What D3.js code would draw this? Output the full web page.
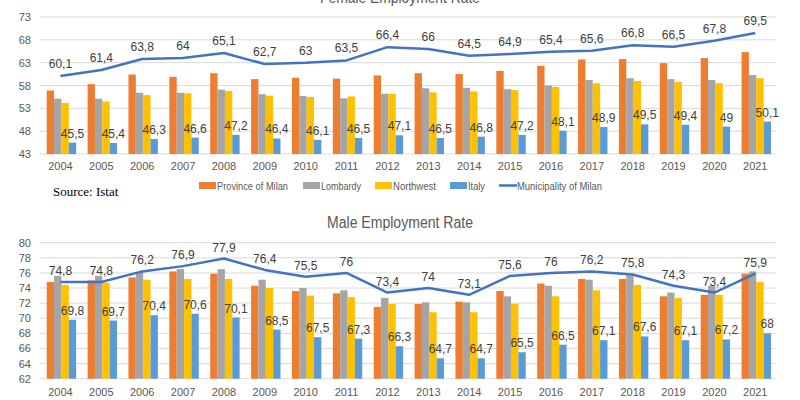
<!DOCTYPE html>
<html><head><meta charset="utf-8">
<script src="https://cdn.jsdelivr.net/npm/d3@7"></script>
<style>
body{margin:0;background:#fff;}
svg{display:block;font-family:"Liberation Sans","Open Sans",sans-serif;}
</style></head><body>
<svg id="c" width="800" height="400"></svg>
<script>
const years = ["2004","2005","2006","2007","2008","2009","2010","2011","2012","2013","2014","2015","2016","2017","2018","2019","2020","2021"];
const seriesNames = ["Province of Milan","Lombardy","Northwest","Italy","Municipality of Milan"];
const colors = ["#ED7D31","#A5A5A5","#FFC000","#5B9BD5","#4472C4"];

// Female
const fProvince = [56.9,58.3,60.4,59.9,60.7,59.4,59.7,59.5,60.2,60.7,60.5,61.2,62.3,63.7,63.8,62.9,64.0,65.3];
const fLombardy = [55.1,55.1,56.4,56.4,57.1,56.1,55.7,55.2,56.2,57.4,57.5,57.2,58.0,59.2,59.6,59.4,59.2,60.3];
const fNorthwest = [54.2,54.5,55.9,56.3,56.8,55.8,55.5,55.6,56.2,56.5,56.7,57.0,57.7,58.5,59.0,58.8,58.5,59.6];
const fItaly = [45.5,45.4,46.3,46.6,47.2,46.4,46.1,46.5,47.1,46.5,46.8,47.2,48.1,48.9,49.5,49.4,49.0,50.1];
const fMunicipality = [60.1,61.4,63.8,64,65.1,62.7,63,63.5,66.4,66,64.5,64.9,65.4,65.6,66.8,66.5,67.8,69.5];
const fTicks = [43,48,53,58,63,68,73];

// Male
const mProvince = [74.8,75.0,75.4,76.2,75.9,74.3,73.6,73.3,71.5,71.9,72.2,73.6,74.6,75.2,75.2,72.9,73.1,75.9];
const mLombardy = [75.6,75.6,76.1,76.5,76.5,75.1,74.0,73.7,72.7,72.1,72.1,72.9,74.3,75.1,75.7,73.4,74.3,76.2];
const mNorthwest = [74.4,74.7,75.1,75.2,75.2,74.0,73.0,72.8,71.9,70.8,70.8,71.9,72.9,73.7,74.4,72.7,73.1,74.8];
const mItaly = [69.8,69.7,70.4,70.6,70.1,68.5,67.5,67.3,66.3,64.7,64.7,65.5,66.5,67.1,67.6,67.1,67.2,68];
const mMunicipality = [74.8,74.8,76.2,76.9,77.9,76.4,75.5,76,73.4,74,73.1,75.6,76,76.2,75.8,74.3,73.4,75.9];
const mTicks = [62,64,66,68,70,72,74,76,78,80];

const svg = d3.select("#c");
const fmt = v => String(v).replace(".", ",");

function drawChart(opts){
  const g = svg.append("g");
  const x = d3.scaleBand().domain(years).range([40, 775.7]).paddingInner(0).paddingOuter(0);
  const y = d3.scaleLinear().domain([opts.ticks[0], opts.ticks[opts.ticks.length-1]]).range([opts.bottom, opts.top]);
  g.selectAll(".grid").data(opts.ticks).enter().append("line")
    .attr("x1", 40).attr("x2", 775.7)
    .attr("y1", d => y(d)).attr("y2", d => y(d))
    .attr("stroke", "#D9D9D9").attr("stroke-width", 1);
  g.selectAll(".yl").data(opts.ticks).enter().append("text")
    .attr("x", 31).attr("y", d => y(d) + 4)
    .attr("text-anchor", "end").attr("font-size", 11).attr("fill", "#595959")
    .text(d => d);
  g.selectAll(".xl").data(years).enter().append("text")
    .attr("x", d => x(d) + x.bandwidth()/2).attr("y", opts.xLabelY)
    .attr("text-anchor", "middle").attr("font-size", 11).attr("fill", "#595959")
    .text(d => d);
  const barSeries = [opts.province, opts.lombardy, opts.northwest, opts.italy];
  const inner = d3.scaleBand().domain([0,1,2,3]).range([0, x.bandwidth()]).paddingOuter(0.78).paddingInner(0);
  barSeries.forEach((vals, si) => {
    g.selectAll(".b"+si).data(vals).enter().append("rect")
      .attr("x", (d,i) => x(years[i]) + inner(si) + 1)
      .attr("width", inner.bandwidth())
      .attr("y", d => y(d))
      .attr("height", d => opts.bottom - y(d))
      .attr("fill", colors[si]);
  });
  g.selectAll(".il").data(opts.italy).enter().append("text")
    .attr("x", (d,i) => x(years[i]) + inner(3) + 1 + inner.bandwidth()/2)
    .attr("y", d => y(d) - opts.italyOff)
    .attr("text-anchor", "middle").attr("font-size", 12).attr("fill", "#404040")
    .text(d => fmt(d));
  const line = d3.line().x((d,i) => x(years[i]) + x.bandwidth()/2).y(d => y(d));
  g.append("path").datum(opts.municipality).attr("d", line)
    .attr("fill", "none").attr("stroke", colors[4]).attr("stroke-width", 2.5)
    .attr("stroke-linejoin", "round");
  g.selectAll(".ml").data(opts.municipality).enter().append("text")
    .attr("x", (d,i) => x(years[i]) + x.bandwidth()/2)
    .attr("y", d => y(d) - opts.lineOff)
    .attr("text-anchor", "middle").attr("font-size", 12).attr("fill", "#404040")
    .text(d => fmt(d));
  svg.append("text").attr("x", 400).attr("y", opts.titleY)
    .attr("text-anchor", "middle").attr("font-size", 16).attr("fill", "#595959")
    .attr("textLength", opts.titleW).attr("lengthAdjust", "spacingAndGlyphs")
    .text(opts.title);
}

drawChart({title:"Female Employment Rate", titleY:3, titleW:160, top:17, bottom:154, ticks:fTicks, xLabelY:170,
  province:fProvince, lombardy:fLombardy, northwest:fNorthwest, italy:fItaly, municipality:fMunicipality,
  italyOff:5, lineOff:8});
drawChart({title:"Male Employment Rate", titleY:228, titleW:146, top:242.7, bottom:378.7, ticks:mTicks, xLabelY:396,
  province:mProvince, lombardy:mLombardy, northwest:mNorthwest, italy:mItaly, municipality:mMunicipality,
  italyOff:5, lineOff:7});

// legend
const legendX = [199, 303, 375, 450, 499];
const legendW = [71, 40, 43, 17, 85];
const lg = svg.append("g");
seriesNames.forEach((n, i) => {
  if (i < 4) {
    lg.append("rect").attr("x", legendX[i]).attr("y", 182).attr("width", 17).attr("height", 7).attr("fill", colors[i]);
  } else {
    lg.append("line").attr("x1", legendX[i]).attr("x2", legendX[i]+18).attr("y1", 185.5).attr("y2", 185.5)
      .attr("stroke", colors[i]).attr("stroke-width", 2.5);
  }
  lg.append("text").attr("x", legendX[i] + 18).attr("y", 190).attr("font-size", 11).attr("fill", "#595959")
    .attr("textLength", legendW[i]).attr("lengthAdjust", "spacingAndGlyphs").text(n);
});
svg.append("text").attr("x", 53).attr("y", 196).attr("font-family", "Liberation Serif, serif")
  .attr("font-size", 13).attr("fill", "#000").text("Source: Istat");
</script>
</body></html>
